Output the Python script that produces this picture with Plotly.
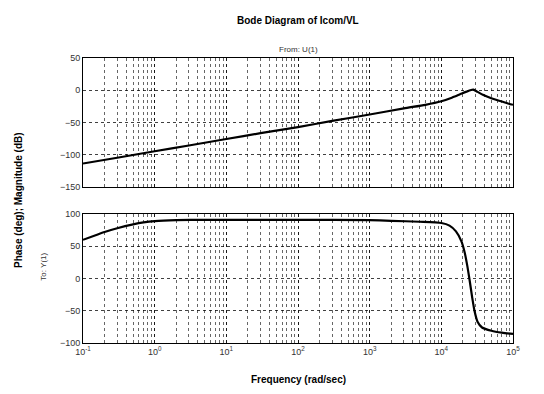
import plotly.graph_objects as go
from plotly.subplots import make_subplots

# Magnitude curve (rad/sec, dB)
mag_freq = [0.1, 0.3, 1, 3, 10, 30, 100, 300, 1000, 3000, 6000, 10000, 14000, 18000, 22000, 26000, 28000, 32000, 38000, 45000, 55000, 70000, 85000, 100000]
mag_db = [-113.5, -104.5, -94.5, -85.5, -75.5, -66.5, -57, -47.5, -37.5, -28, -22.5, -17, -11.5, -6.5, -2.5, 0.5, 1, -2.5, -7, -10.5, -14, -17.5, -20.5, -22.5]

# Phase curve (rad/sec, deg)
ph_freq = [0.1, 0.15, 0.2, 0.3, 0.5, 0.7, 1, 2, 5, 10, 100, 1000, 2000, 5000, 10000, 13000, 16000, 19000, 21000, 23000, 25000, 27000, 29000, 32000, 37000, 50000, 70000, 100000]
ph_deg = [60, 67, 72, 78, 84, 87, 89, 90.5, 91, 91, 91, 90.5, 89.5, 88, 86, 82, 73, 58, 42, 20, -5, -30, -50, -67, -76, -81, -84, -86]

x_tickvals = [0.1, 1, 10, 100, 1000, 10000, 100000]
x_ticktext = ["10<sup>-1</sup>", "10<sup>0</sup>", "10<sup>1</sup>", "10<sup>2</sup>", "10<sup>3</sup>", "10<sup>4</sup>", "10<sup>5</sup>"]
mag_ticks = [50, 0, -50, -100, -150]
ph_ticks = [100, 50, 0, -50, -100]

fig = make_subplots(rows=2, cols=1, shared_xaxes=False, vertical_spacing=0.09)
fig.add_trace(go.Scatter(x=mag_freq, y=mag_db, mode="lines", line=dict(color="black", width=2.2, shape="spline", smoothing=0.6), showlegend=False), row=1, col=1)
fig.add_trace(go.Scatter(x=ph_freq, y=ph_deg, mode="lines", line=dict(color="black", width=2.2, shape="spline", smoothing=0.6), showlegend=False), row=2, col=1)

FONT = "Liberation Sans, Arial, sans-serif"
axis_common = dict(
    showline=True, linecolor="black", linewidth=1, mirror=True,
    showgrid=True, gridcolor="rgba(0,0,0,0.75)", gridwidth=1, griddash="dot",
    zeroline=False, ticks="", tickfont=dict(size=9, color="#333", family=FONT),
)

fig.update_xaxes(type="log", range=[-1, 5], tickvals=x_tickvals, ticktext=x_ticktext,
                 minor=dict(showgrid=True, gridcolor="rgba(0,0,0,0.6)", gridwidth=1, griddash="dot", dtick="D1"),
                 **axis_common)
fig.update_xaxes(showticklabels=False, row=1, col=1)
fig.update_yaxes(range=[-150, 50], tickvals=mag_ticks, row=1, col=1, **axis_common)
fig.update_yaxes(range=[-100, 100], tickvals=ph_ticks, row=2, col=1, **axis_common)

fig.update_layout(
    width=544, height=394,
    margin=dict(l=83, r=31, t=58, b=51),
    paper_bgcolor="white", plot_bgcolor="white",
    font=dict(family=FONT, color="black"),
)
fig.layout.yaxis.domain = [0.547, 1.0]
fig.layout.yaxis2.domain = [0.0, 0.4526]

fig.add_annotation(text="<b>Bode Diagram of Icom/VL</b>", xref="paper", yref="paper", x=0.5, y=1.0,
                   yshift=45, showarrow=False, font=dict(size=10, family=FONT, color="black"))
fig.add_annotation(text="From: U(1)", xref="paper", yref="paper", x=0.5, y=1.0, yshift=15,
                   showarrow=False, font=dict(size=8, family=FONT, color="#333"))
fig.add_annotation(text="<b>Phase (deg); Magnitude (dB)</b>", xref="paper", yref="paper", x=0, y=0.5,
                   xshift=-72, textangle=-90, showarrow=False, font=dict(size=10, family=FONT, color="black"))
fig.add_annotation(text="To: Y(1)", xref="paper", yref="paper", x=0, y=0.21,
                   xshift=-46, textangle=-90, showarrow=False, font=dict(size=8, family=FONT, color="#333"))
fig.add_annotation(text="<b>Frequency (rad/sec)</b>", xref="paper", yref="paper", x=0.5, y=0,
                   yshift=-44, showarrow=False, font=dict(size=10, family=FONT, color="black"))

fig.write_html("out.html")
